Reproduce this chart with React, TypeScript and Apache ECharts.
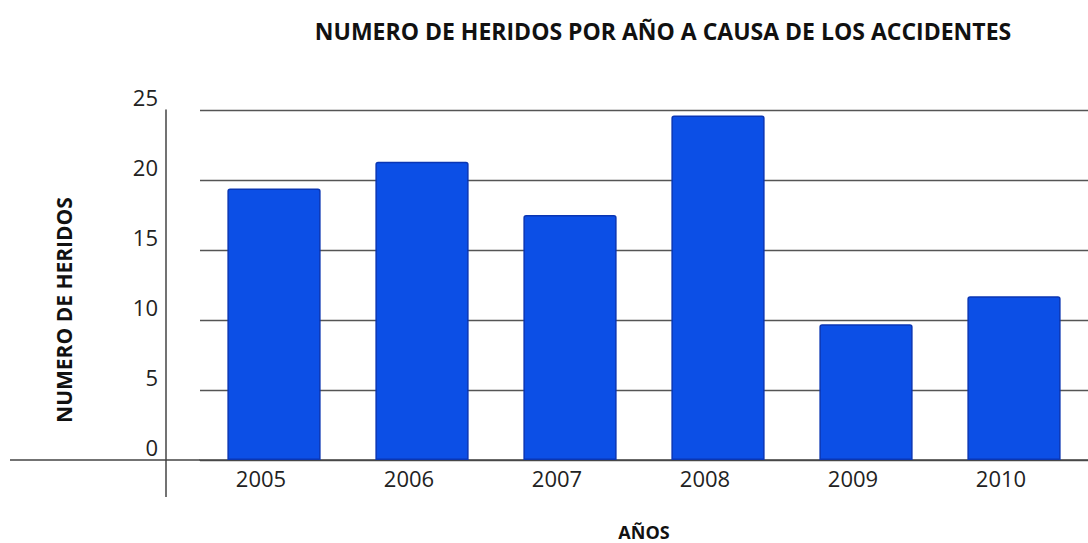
import React, { useEffect, useRef } from "react";
import * as echarts from "echarts";

const years = ["2005", "2006", "2007", "2008", "2009", "2010"];
const heridos = [19.4, 21.3, 17.5, 24.6, 9.7, 11.7];
const yTicks = { min: 0, max: 25, interval: 5 };

const TITLE = "NUMERO DE HERIDOS POR AÑO A CAUSA DE LOS ACCIDENTES";
const Y_NAME = "NUMERO DE HERIDOS";
const X_NAME = "AÑOS";

export default function App() {
  const ref = useRef<HTMLDivElement>(null);
  useEffect(() => {
    document.body.style.margin = "0";
    const chart = echarts.init(ref.current!, null, { renderer: "svg" });
    const font = "'Open Sans', 'Liberation Sans', sans-serif";
    chart.setOption({
      animation: false,
      backgroundColor: "#ffffff",
      title: {
        text: TITLE,
        left: 658,
        top: 14,
        textAlign: "center",
        textStyle: { fontFamily: font, fontWeight: "bold", fontSize: 23, color: "#111" },
      },
      grid: { left: 200, right: 0, top: 110, bottom: 83, containLabel: false, outerBoundsMode: "none" },
      xAxis: {
        type: "category",
        data: years,
        name: X_NAME,
        nameLocation: "middle",
        nameGap: 63,
        nameTextStyle: { fontFamily: font, fontWeight: "bold", fontSize: 18, color: "#111" },
        axisLine: { show: true, lineStyle: { color: "#444", width: 1.5 } },
        axisTick: { show: false },
        axisLabel: {
          fontFamily: font,
          fontSize: 22,
          color: "#222",
          margin: 7,
          padding: [0, 26, 0, 0],
        },
      },
      yAxis: {
        type: "value",
        min: yTicks.min,
        max: yTicks.max,
        interval: yTicks.interval,
        offset: 34,
        name: Y_NAME,
        nameLocation: "middle",
        nameGap: 92,
        nameRotate: 90,
        nameTextStyle: {
          fontFamily: font,
          fontWeight: "bold",
          fontSize: 21,
          color: "#111",
          padding: [0, 50, 0, 0],
        },
        axisLine: { show: true, lineStyle: { color: "#444", width: 1.5 } },
        axisTick: { show: false },
        axisLabel: {
          fontFamily: font,
          fontSize: 22,
          color: "#222",
          margin: 8,
          verticalAlign: "bottom",
          padding: [0, 0, 2, 0],
        },
        splitLine: { show: true, lineStyle: { color: "#555", width: 1.3 } },
      },
      graphic: [
        {
          type: "line",
          shape: { x1: 10, y1: 460, x2: 200, y2: 460 },
          style: { stroke: "#444", lineWidth: 1.5 },
        },
        {
          type: "line",
          shape: { x1: 166, y1: 460, x2: 166, y2: 497 },
          style: { stroke: "#444", lineWidth: 1.5 },
        },
      ],
      series: [
        {
          type: "bar",
          data: heridos,
          barWidth: "63%",
          itemStyle: {
            color: "#0c4fe6",
            borderColor: "#0a36b4",
            borderWidth: 1.5,
            borderRadius: [2, 2, 0, 0],
          },
        },
      ],
    });
    return () => chart.dispose();
  }, []);
  return <div ref={ref} style={{ width: 1088, height: 543 }} />;
}
